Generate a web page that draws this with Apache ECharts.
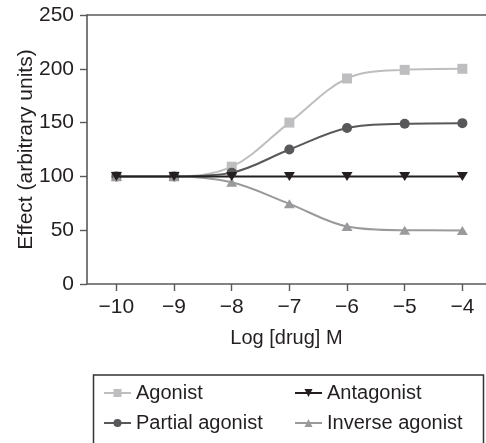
<!DOCTYPE html>
<html>
<head>
<meta charset="utf-8">
<script src="https://cdn.jsdelivr.net/npm/echarts@6/dist/echarts.min.js"></script>
<style>html,body{margin:0;padding:0;background:#fff}#c{width:486px;height:443px}</style>
</head>
<body>
<div id="c"></div>
<script>
const logDose = [-10, -9, -8, -7, -6, -5, -4];
const agonist = [100, 100, 109, 150, 191, 199, 200];
const partialAgonist = [100, 100, 103.5, 125, 145, 149, 149.5];
const antagonist = [100, 100, 100, 100, 100, 100, 100];
const inverseAgonist = [100, 100, 94.5, 74.5, 53.5, 50, 49.8];
const xTicks = [-10, -9, -8, -7, -6, -5, -4];
const yTicks = [0, 50, 100, 150, 200, 250];

const FONT = 'Liberation Sans, Arial, sans-serif';
const AX = '#58595b';
const TXT = '#231f20';

function pts(ys) { return logDose.map((x, i) => [x, ys[i]]); }

const chart = echarts.init(document.getElementById('c'), null, {renderer: 'canvas'});
chart.setOption({
  animation: false,
  backgroundColor: '#fff',
  textStyle: {fontFamily: FONT},
  grid: {left: 87, top: 15, right: 0, bottom: 159, containLabel: false},
  xAxis: [{
    type: 'value', min: -10.51, max: -3.59,
    name: 'Log [drug] M', nameLocation: 'middle', nameGap: 44,
    nameTextStyle: {fontSize: 20, color: TXT, fontFamily: FONT},
    axisLine: {show: true, onZero: false, lineStyle: {color: AX, width: 1.6}},
    axisTick: {show: true, customValues: xTicks, length: 7, lineStyle: {color: AX, width: 1.4}},
    axisLabel: {customValues: xTicks, fontSize: 21, color: TXT, margin: 13,
      formatter: v => String(v).replace('-', '\u2212')},
    splitLine: {show: false}
  }, {
    type: 'value', position: 'top', min: -10.51, max: -3.59,
    axisLine: {show: true, onZero: false, lineStyle: {color: AX, width: 1.6}},
    axisTick: {show: false}, axisLabel: {show: false}, splitLine: {show: false}
  }],
  yAxis: {
    type: 'value', min: 0, max: 250, interval: 50,
    name: 'Effect (arbitrary units)', nameLocation: 'middle', nameGap: 50, nameRotate: 90,
    nameMoveOverlap: false,
    nameTextStyle: {fontSize: 21, color: TXT, fontFamily: FONT},
    axisLine: {show: true, lineStyle: {color: AX, width: 1.6}},
    axisTick: {show: true, length: 7, lineStyle: {color: AX, width: 1.4}},
    axisLabel: {fontSize: 21, color: TXT, margin: 13},
    splitLine: {show: false}
  },
  legend: [{
    orient: 'vertical', left: 103, top: 383, padding: 0, itemGap: 10,
    itemWidth: 27, itemHeight: 10,
    textStyle: {fontSize: 20, color: TXT, lineHeight: 20, fontFamily: FONT},
    data: ['Agonist', 'Partial agonist']
  }, {
    orient: 'vertical', left: 294, top: 383, padding: 0, itemGap: 10,
    itemWidth: 27, itemHeight: 10,
    textStyle: {fontSize: 20, color: TXT, lineHeight: 20, fontFamily: FONT},
    data: ['Antagonist', 'Inverse agonist']
  }],
  graphic: [{
    type: 'rect', shape: {x: 93.5, y: 375, width: 390, height: 80},
    style: {fill: 'none', stroke: '#333', lineWidth: 1.5}, silent: true
  }],
  series: [{
    name: 'Agonist', type: 'line', data: pts(agonist), smooth: 0.35,
    symbol: 'rect', symbolSize: 10,
    lineStyle: {color: '#bebec0', width: 2}, itemStyle: {color: '#bebec0'}, z: 2
  }, {
    name: 'Partial agonist', type: 'line', data: pts(partialAgonist), smooth: 0.35,
    symbol: 'circle', symbolSize: 10,
    lineStyle: {color: '#58585a', width: 2}, itemStyle: {color: '#58585a'}, z: 3
  }, {
    name: 'Inverse agonist', type: 'line', data: pts(inverseAgonist), smooth: 0.35,
    symbol: 'triangle', symbolSize: [11, 9],
    lineStyle: {color: '#9a9a9c', width: 2}, itemStyle: {color: '#9a9a9c'}, z: 3
  }, {
    name: 'Antagonist', type: 'line', data: pts(antagonist),
    symbol: 'triangle', symbolRotate: 180, symbolSize: [11, 9],
    lineStyle: {color: '#231f20', width: 2}, itemStyle: {color: '#231f20'}, z: 4
  }]
});
</script>
</body>
</html>
